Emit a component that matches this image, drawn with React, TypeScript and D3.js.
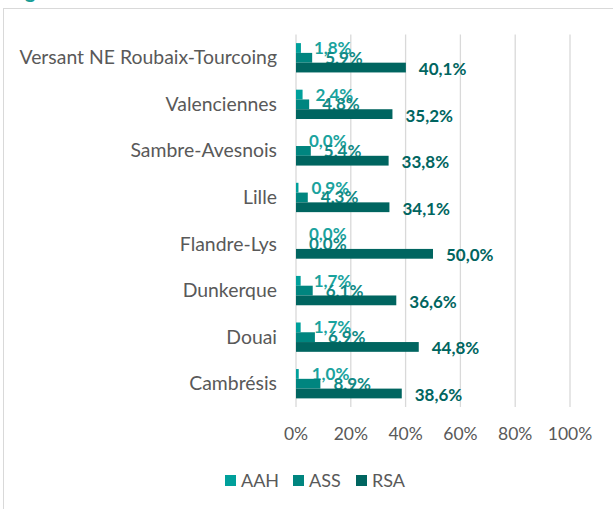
import React, { useEffect, useRef } from 'react';
import * as d3 from 'd3';

// values (share in %)
const categories = [
  'Versant NE Roubaix-Tourcoing',
  'Valenciennes',
  'Sambre-Avesnois',
  'Lille',
  'Flandre-Lys',
  'Dunkerque',
  'Douai',
  'Cambrésis',
];
const seriesNames = ['AAH', 'ASS', 'RSA'];
const aah = [1.8, 2.4, 0.0, 0.9, 0.0, 1.7, 1.7, 1.0];
const ass = [5.9, 4.8, 5.4, 4.3, 0.0, 6.1, 6.9, 8.9];
const rsa = [40.1, 35.2, 33.8, 34.1, 50.0, 36.6, 44.8, 38.6];
const xTicks = [0, 20, 40, 60, 80, 100];

const barColors = ['#00a09b', '#00857f', '#006560'];
const labelColors = ['#1aa39e', '#118a85', '#006560'];

export default function App() {
  const ref = useRef<SVGSVGElement>(null);

  useEffect(() => {
    const svg = d3.select(ref.current);
    svg.selectAll('*').remove();
    const font = 'Lato, "Open Sans", sans-serif';

    // chart frame (cut off at right and bottom)
    svg.append('rect')
      .attr('x', 3.5).attr('y', 8.5)
      .attr('width', 700).attr('height', 600)
      .attr('fill', '#fff').attr('stroke', '#d9d9d9');

    // tail of the cropped title
    svg.append('text')
      .attr('x', 25).attr('y', -2)
      .attr('fill', '#1a9e97')
      .style('font', `bold 20px ${font}`)
      .text('g');

    const x = d3.scaleLinear().domain([0, 100]).range([296, 570]);
    const y = d3.scaleBand<string>()
      .domain(categories)
      .range([34.5, 407])
      .paddingInner(0.37)
      .paddingOuter(0.185);
    const ys = d3.scaleBand<string>()
      .domain(seriesNames)
      .range([0, y.bandwidth()]);

    // gridlines
    svg.append('g')
      .selectAll('line')
      .data(xTicks)
      .enter()
      .append('line')
      .attr('x1', d => x(d)).attr('x2', d => x(d))
      .attr('y1', 34.5).attr('y2', 407)
      .attr('stroke', '#d9d9d9').attr('stroke-width', 1.3);

    // tick labels
    svg.append('g')
      .selectAll('text')
      .data(xTicks)
      .enter()
      .append('text')
      .attr('x', d => x(d)).attr('y', 439.5)
      .attr('text-anchor', 'middle')
      .attr('fill', '#595959')
      .style('font', `17.5px ${font}`)
      .text(d => d + '%');

    // category labels
    svg.append('g')
      .selectAll('text')
      .data(categories)
      .enter()
      .append('text')
      .attr('x', 277)
      .attr('y', d => (y(d) as number) + y.bandwidth() / 2 + 6.5)
      .attr('text-anchor', 'end')
      .attr('fill', '#595959')
      .style('font', `19.4px ${font}`)
      .text(d => d);

    const series = [aah, ass, rsa];
    series.forEach((vals, si) => {
      const name = seriesNames[si];
      const g = svg.append('g');
      g.selectAll('rect')
        .data(vals)
        .enter()
        .append('rect')
        .attr('x', x(0))
        .attr('y', (d, i) => (y(categories[i]) as number) + (ys(name) as number))
        .attr('width', d => x(d) - x(0))
        .attr('height', ys.bandwidth())
        .attr('fill', barColors[si]);
      g.selectAll('text')
        .data(vals)
        .enter()
        .append('text')
        .attr('x', d => x(d) + 13)
        .attr('y', (d, i) => (y(categories[i]) as number) + (ys(name) as number) + ys.bandwidth() / 2 + 6 + (si === 2 ? 1.5 : 0))
        .attr('fill', labelColors[si])
        .style('font', `bold 17px ${font}`)
        .text(d => d.toFixed(1).replace('.', ',') + '%');
    });

    // legend
    const legendX = [225, 293, 356];
    const lg = svg.append('g');
    seriesNames.forEach((n, i) => {
      lg.append('rect')
        .attr('x', legendX[i]).attr('y', 475)
        .attr('width', 11).attr('height', 11)
        .attr('fill', barColors[i]);
      lg.append('text')
        .attr('x', legendX[i] + 16).attr('y', 486.5)
        .attr('fill', '#595959')
        .style('font', `18px ${font}`)
        .text(n);
    });
  }, []);

  return (
    <svg ref={ref} width={613} height={509}
      style={{ position: 'absolute', left: 0, top: 0, background: '#fff' }} />
  );
}
